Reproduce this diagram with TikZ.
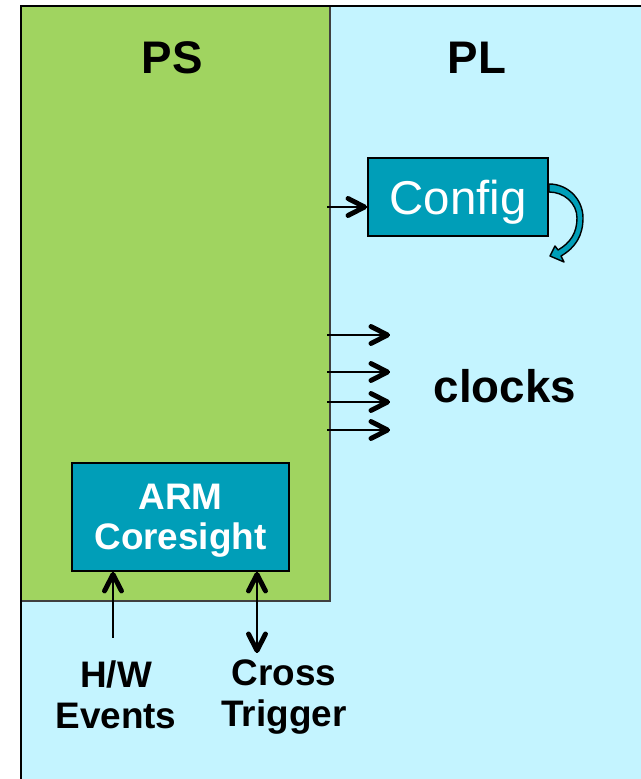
\documentclass[tikz,border=0pt]{standalone}
\usepackage{fontspec}
\setsansfont{Liberation Sans}
\usetikzlibrary{decorations.markings}
\definecolor{psgreen}{HTML}{A0D460}
\definecolor{plblue}{HTML}{C4F4FF}
\definecolor{ipteal}{HTML}{009EB8}

\begin{document}
\begin{tikzpicture}[font=\sffamily, line width=0.9pt,
    chevron/.style={line width=2.8pt, line cap=round, line join=round},
    pin/.style={postaction={decorate}, decoration={markings,
        mark=at position 1 with {\draw[chevron] (-0.38,0.17) -- (-0.05,0) -- (-0.38,-0.17);}}},
    pins/.style={postaction={decorate}, decoration={markings,
        mark=at position 0 with {\draw[chevron] (0.38,0.17) -- (0.05,0) -- (0.38,-0.17);},
        mark=at position 1 with {\draw[chevron] (-0.38,0.17) -- (-0.05,0) -- (-0.38,-0.17);}}},
    block/.style={draw=black, line width=1.1pt, fill=ipteal, text=white, inner sep=0pt, text depth=0pt},
    region/.style={font=\sffamily\bfseries\fontsize{26}{30}\selectfont},
    tag/.style={font=\sffamily\bfseries\fontsize{21}{23.2}\selectfont, align=center, inner sep=0pt, anchor=north}]
  \useasboundingbox (0,0) rectangle (12.82,15.58);
  \clip (0,0) rectangle (12.82,15.58);

  % PL fabric behind, PS side on top
  \fill[plblue] (0.42,-0.5) rectangle (13.5,15.46);
  \draw[fill=psgreen, draw=black!75, line width=0.6pt] (0.42,3.56) rectangle (6.6,15.46);
  \draw[line width=1.2pt] (0.42,-0.5) -- (0.42,15.46) -- (13.5,15.46);
  \node[region] (ps) at (3.44,14.43) {PS};
  \node[region] (pl) at (9.54,14.43) {PL};

  % configuration port
  \node[block, minimum width=3.6cm, minimum height=1.56cm, font=\sffamily\fontsize{27}{30}\selectfont] (cfg) at (9.16,11.64) {Config};
  \coordinate (cfgtail) at (6.54,11.44);
  \draw[pin] (cfgtail) -- (cfgtail -| cfg.west);

  % loop-back block arrow
  \draw[fill=ipteal, line width=0.8pt, line join=round]
    (10.98,11.90) to[out=0, in=90] (11.66,11.22) to[out=-90, in=30] (11.22,10.46)
    -- (11.28,10.34) -- (11.00,10.46) -- (11.10,10.66) -- (11.16,10.58)
    to[out=30, in=-90] (11.54,11.22) to[out=90, in=0] (10.98,11.74) -- cycle;

  % clock outputs
  \foreach \y [count=\i] in {8.88,8.14,7.54,6.98}{
    \coordinate (clkA\i) at (6.54,\y);
    \coordinate (clkB\i) at (7.8,\y);
    \draw[pin] (clkA\i) -- (clkB\i);
  }
  \node[region] (clk) at (10.1,7.86) {clocks};

  % debug block and its pins
  \node[block, minimum width=4.34cm, minimum height=2.16cm, align=center, font=\sffamily\bfseries\fontsize{21}{23}\selectfont] (arm) at (3.61,5.24) {ARM\\Coresight};
  \node[tag] (hw) at (2.32,2.38) {H/W\\Events};
  \node[tag] (xtrig) at (5.68,2.40) {Cross\\Trigger};
  \coordinate (hwtail) at (2.26,2.82);
  \coordinate (xtail) at (5.14,2.52);
  \draw[pin] (hwtail) -- (hwtail |- arm.south);
  \draw[pins] (xtail) -- (xtail |- arm.south);
\end{tikzpicture}
\end{document}
